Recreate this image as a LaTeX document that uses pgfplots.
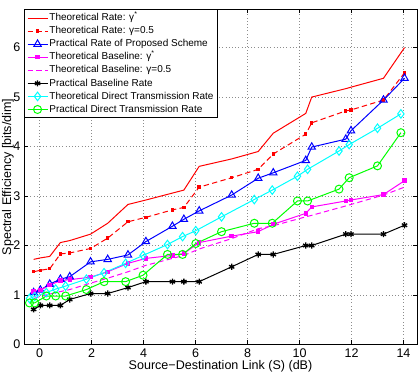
\documentclass[border=0pt]{standalone}
\usepackage{fontspec}
\setmainfont{Liberation Sans}
\usepackage{pgfplots}
\pgfplotsset{compat=1.18}

\definecolor{mred}{rgb}{1,0,0}
\definecolor{mblue}{rgb}{0,0,1}
\definecolor{mmagenta}{rgb}{1,0,1}
\definecolor{mcyan}{rgb}{0,1,1}
\definecolor{mgreen}{rgb}{0,1,0}

\newcommand{\lblfont}{\fontsize{9.4}{11}\selectfont}
\newcommand{\legfont}{\fontsize{7.5}{9}\selectfont}

\begin{document}
\begin{tikzpicture}
\begin{axis}[
  name=ax,
  at={(0,0)}, anchor=south west,
  scale only axis, width=294.75pt, height=251.25pt,
  xmin=-0.6, xmax=14.52, ymin=0, ymax=6.77,
  xtick={0,2,...,14}, ytick={0,1,...,6},
  grid=major,
  major grid style={dotted, black!45, line width=0.5pt},
  tick align=inside, major tick length=3pt,
  tick style={black, line width=0.5pt},
  axis line style={black, line width=0.6pt},
  /pgf/number format/assume math mode=true,
  ticklabel style={font=\lblfont},
  xticklabel style={anchor=center, inner sep=0pt, yshift=-6.4pt},
  yticklabel style={anchor=east, inner sep=0pt, xshift=-2.5pt},
  every axis x label/.style={at={(axis description cs:0.5,-0.0645)}, anchor=center, font=\lblfont},
  every axis y label/.style={at={(axis description cs:-0.0407,0.5)}, anchor=center, rotate=90, font=\lblfont},
  xlabel={Source−Destination Link (S) (dB)},
  ylabel={Spectral Efficiency [bits/dim]},
  legend cell align=left,
  legend style={at={(0,1)}, anchor=north west, draw=black, line width=0.6pt,
    fill=white, font=\legfont, inner xsep=2pt, inner ysep=1.5pt,
    row sep=0.6pt,
    nodes={inner sep=1pt, text height=5.6pt, text depth=1.6pt}},
  legend image code/.code={%
    \draw[mark repeat=2, mark phase=2] plot coordinates {(0pt,0pt) (7.5pt,0pt) (15pt,0pt)};},
  every axis plot/.append style={line width=0.75pt},
]

% theoretical rate, optimal gamma
\addplot[mred, solid, no markers] coordinates {
(-0.23,1.72) (0.03,1.75) (0.39,1.78) (0.80,2.06) (1.16,2.10) (1.96,2.23) (2.62,2.45)
(3.40,2.83) (4.09,2.92) (5.11,3.06) (5.55,3.12) (6.14,3.60) (7.39,3.75) (8.41,3.90)
(8.99,4.27) (10.24,4.67) (10.47,5.00) (11.78,5.17) (11.98,5.20) (13.23,5.38) (14.04,6.00)};
\addlegendentry{Theoretical Rate: γ\textsuperscript{*}}

% theoretical rate, gamma = 0.5
\addplot[mred, dash pattern=on 4pt off 2.5pt, mark=square*, mark size=0.9pt, mark options={solid}] coordinates {
(-0.23,1.47) (0.03,1.50) (0.39,1.53) (0.80,1.83) (1.16,1.85) (1.96,1.94) (2.62,2.15)
(3.40,2.48) (4.09,2.57) (5.11,2.72) (5.55,2.77) (6.14,3.18) (7.39,3.37) (8.41,3.54)
(8.99,3.85) (10.24,4.25) (10.47,4.48) (11.78,4.72) (11.98,4.74) (13.23,4.94) (14.04,5.49)};
\addlegendentry{Theoretical Rate: γ=0.5}

% practical rate of the proposed scheme
\addplot[mblue, solid, mark=triangle, mark size=3.2pt, mark options={solid, line width=0.75pt}] coordinates {
(-0.23,1.05) (0.03,1.10) (0.39,1.22) (0.80,1.32) (1.16,1.37) (1.96,1.67) (2.62,1.72)
(3.40,1.81) (4.09,2.08) (5.11,2.39) (5.55,2.53) (6.14,2.70) (7.39,3.02) (8.41,3.36)
(8.99,3.47) (10.24,3.72) (10.47,3.99) (11.78,4.15) (11.98,4.32) (13.23,4.94) (14.04,5.38)};
\addlegendentry{Practical Rate of Proposed Scheme}

% theoretical baseline, optimal gamma
\addplot[mmagenta, solid, mark=square*, mark size=1.3pt] coordinates {
(-0.23,1.07) (0.03,1.10) (0.39,1.20) (0.80,1.29) (1.16,1.31) (1.96,1.36) (2.62,1.47)
(3.40,1.64) (4.09,1.74) (5.11,1.80) (5.55,1.84) (6.14,2.06) (7.39,2.19) (8.41,2.28)
(8.99,2.43) (10.24,2.65) (10.47,2.78) (11.78,2.90) (11.98,2.92) (13.23,3.03) (14.04,3.31)};
\addlegendentry{Theoretical Baseline: γ\textsuperscript{*}}

% theoretical baseline, gamma = 0.5
\addplot[mmagenta, dash pattern=on 4pt off 2.5pt, no markers] coordinates {
(-0.23,0.93) (0.03,0.97) (0.39,1.02) (0.80,1.07) (1.16,1.11) (1.96,1.24) (2.62,1.34)
(3.40,1.47) (4.09,1.60) (5.11,1.74) (5.55,1.80) (6.14,1.93) (7.39,2.14) (8.41,2.34)
(8.99,2.40) (10.24,2.58) (10.47,2.61) (11.78,2.80) (11.98,2.83) (13.23,3.02) (14.04,3.18)};
\addlegendentry{Theoretical Baseline: γ=0.5}

% practical baseline rate
\addplot[black, solid, mark=asterisk, mark size=2.3pt, mark options={solid, line width=1pt}] coordinates {
(-0.23,0.71) (0.03,0.79) (0.39,0.79) (0.80,0.79) (1.16,0.91) (1.96,1.03) (2.62,1.03)
(3.40,1.15) (4.09,1.27) (5.11,1.27) (5.55,1.27) (6.14,1.27) (7.39,1.57) (8.41,1.82)
(8.99,1.82) (10.24,2.00) (10.47,2.00) (11.78,2.23) (11.98,2.23) (13.23,2.23) (14.04,2.41)};
\addlegendentry{Practical Baseline Rate}

% theoretical direct transmission rate
\addplot[mcyan, solid, mark=diamond, mark size=3.2pt, mark options={solid, line width=0.75pt}] coordinates {
(-0.39,0.93) (-0.19,0.97) (0.26,1.05) (0.62,1.12) (1.00,1.18) (1.80,1.32) (2.48,1.45)
(3.31,1.64) (3.98,1.80) (4.92,2.02) (5.50,2.18) (6.01,2.30) (7.00,2.58) (8.26,2.93)
(8.95,3.12) (9.92,3.40) (10.31,3.54) (11.52,3.91) (11.91,4.04) (13.00,4.37) (13.90,4.66)};
\addlegendentry{Theoretical Direct Transmission Rate}

% practical direct transmission rate
\addplot[mgreen, solid, mark=o, mark size=3pt, mark options={solid, line width=0.75pt}] coordinates {
(-0.39,0.84) (-0.19,0.84) (0.26,0.98) (0.62,0.98) (1.00,0.98) (1.80,1.11) (2.48,1.27)
(3.31,1.27) (3.98,1.40) (4.92,1.82) (5.50,1.82) (6.01,2.04) (7.00,2.28) (8.26,2.45)
(8.95,2.45) (9.92,2.90) (10.31,2.90) (11.52,3.14) (11.91,3.37) (13.00,3.61) (13.90,4.28)};
\addlegendentry{Practical Direct Transmission Rate}

\end{axis}
\pgfresetboundingbox
\path[use as bounding box] (-18pt,-21.375pt) rectangle (297pt,258.375pt);
\end{tikzpicture}
\end{document}
